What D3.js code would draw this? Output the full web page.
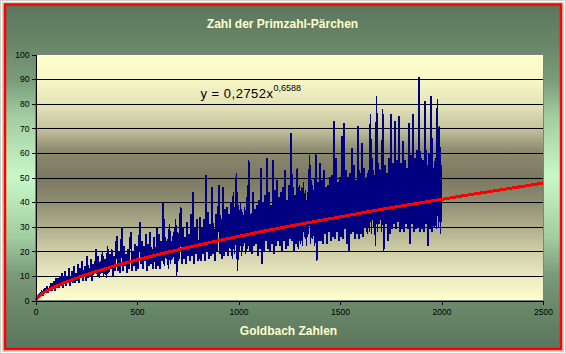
<!DOCTYPE html>
<html>
<head>
<meta charset="utf-8">
<script src="https://cdn.jsdelivr.net/npm/d3@7"></script>
<style>
  body { margin: 0; background: #d4d0c8; }
  svg { display: block; font-family: Arial, "Liberation Sans", sans-serif; }
  .titulo { font-weight: bold; font-size: 12px; fill: #ffffcc; }
  .eixo text { font-size: 8.5px; fill: #000; }
  .eixo line, .eixo path { stroke: #000; shape-rendering: crispEdges; }
</style>
</head>
<body>
<svg id="grafico"></svg>
<script>
// Goldbach-Zahlen: Anzahl der Primzahl-Pärchen, ein Wert je 5 Einheiten (x = 5, 10, ..., 2000)
const paarStart = 5;
const paarSchritt = 5;
const paare = [
  1, 2, 1, 3, 2, 4, 2, 3, 5, 3, 6, 3, 5, 4, 7, 4, 6, 8, 4, 9,
  5, 9, 5, 10, 6, 11, 5, 8, 12, 6, 10, 7, 13, 6, 9, 12, 7, 14, 7, 11,
  8, 15, 7, 13, 9, 16, 8, 12, 14, 8, 18, 9, 13, 10, 17, 8, 15, 11, 16, 21,
  10, 18, 9, 16, 11, 20, 10, 15, 17, 9, 22, 11, 19, 13, 21, 10, 18, 12, 20, 26,
  12, 20, 11, 18, 30, 12, 22, 14, 19, 11, 21, 13, 24, 28, 12, 20, 14, 23, 12, 22,
  13, 24, 32, 15, 24, 13, 22, 16, 27, 12, 23, 14, 28, 15, 21, 13, 26, 16, 13, 30,
  14, 27, 13, 24, 16, 40, 14, 26, 17, 25, 13, 31, 15, 24, 17, 28, 15, 33, 10, 28,
  16, 29, 38, 15, 30, 17, 26, 15, 32, 18, 27, 16, 35, 18, 44, 15, 30, 19, 33, 16,
  17, 34, 16, 30, 19, 33, 16, 51, 20, 36, 17, 31, 18, 46, 19, 29, 16, 35, 20, 37,
  47, 19, 33, 17, 46, 18, 37, 20, 38, 18, 35, 21, 40, 17, 44, 19, 36, 52, 12, 39,
  20, 40, 18, 36, 22, 38, 19, 42, 21, 57, 20, 35, 19, 44, 22, 37, 23, 39, 18, 41,
  21, 54, 15, 40, 20, 43, 24, 58, 21, 44, 20, 39, 23, 57, 19, 45, 22, 49, 24, 42,
  22, 44, 20, 46, 24, 53, 21, 41, 22, 47, 25, 68, 24, 46, 20, 43, 23, 54, 21, 47,
  23, 46, 22, 48, 26, 45, 22, 44, 27, 59, 23, 49, 25, 45, 22, 60, 16, 48, 24, 56,
  24, 49, 23, 53, 27, 46, 23, 47, 28, 50, 24, 51, 26, 73, 25, 58, 28, 48, 24, 50,
  26, 67, 25, 72, 29, 53, 23, 50, 20, 52, 27, 62, 28, 55, 25, 49, 27, 71, 25, 52,
  27, 64, 26, 54, 30, 50, 27, 53, 28, 76, 27, 58, 30, 51, 22, 83, 28, 56, 31, 53,
  28, 78, 20, 55, 31, 52, 24, 58, 27, 76, 29, 56, 31, 73, 29, 57, 32, 75, 28, 56,
  29, 65, 28, 57, 31, 54, 29, 72, 23, 59, 31, 76, 28, 58, 29, 61, 30, 91, 28, 58,
  29, 57, 28, 81, 31, 55, 22, 60, 29, 83, 28, 54, 30, 58, 29, 82, 30, 71, 27, 55
];

// Trendlinie (Potenz)
const trendX = [1, 10, 25, 50, 75, 100, 150, 200, 250, 300, 400, 500, 600, 700, 800, 900, 1000,
  1100, 1200, 1300, 1400, 1500, 1600, 1700, 1800, 1900, 2000, 2100, 2200, 2300, 2400, 2500];
const trendY = [0.28, 1.25, 2.29, 3.62, 4.73, 5.72, 7.47, 9.03, 10.45, 11.8, 14.26, 16.5, 18.6, 20.6, 22.5, 24.3, 26.06,
  27.8, 29.4, 31.0, 32.5, 34.0, 35.5, 37.0, 38.4, 39.8, 41.1, 42.5, 43.8, 45.1, 46.4, 47.7];

// Achsenbeschriftungen
const xTicks = [0, 500, 1000, 1500, 2000, 2500];
const yTicks = [0, 10, 20, 30, 40, 50, 60, 70, 80, 90, 100];

const titel = 'Zahl der Primzahl-Pärchen';
const titelX = 'Goldbach Zahlen';
const gleichung = 'y = 0,2752x';
const exponent = '0,6588';

const largura = 566, altura = 354;
const svg = d3.select('#grafico').attr('width', largura).attr('height', altura);

// Verläufe
const defs = svg.append('defs');
function verlauf(id, stops) {
  const g = defs.append('linearGradient').attr('id', id)
    .attr('x1', 0).attr('y1', 0).attr('x2', 0).attr('y2', 1);
  stops.forEach(s => g.append('stop').attr('offset', s[0]).attr('stop-color', s[1]));
}
verlauf('fundo', [[0, '#5c765e'], [0.1, '#668466'], [0.22, '#7a9c7a'], [0.32, '#a0cca0'],
  [0.5, '#c8f8c8'], [0.68, '#a0cca0'], [0.78, '#7a9c7a'], [0.9, '#668466'], [1, '#5c765e']]);
verlauf('plotfundo', [[0, '#ffffcc'], [0.1, '#f8f7c6'], [0.2, '#e6e5ba'], [0.3, '#c4c39e'],
  [0.39, '#8c8b72'], [0.5, '#7a7960'], [0.59, '#8c8b70'], [0.7, '#aeae8c'], [0.8, '#cfcea8'],
  [0.91, '#ecebc4'], [1, '#ffffcc']]);

// Rahmen
svg.append('rect').attr('x', 1.5).attr('y', 1.5).attr('width', 563).attr('height', 351)
  .attr('fill', 'none').attr('stroke', '#ffffff');
svg.append('rect').attr('x', 5).attr('y', 4.5).attr('width', 556).attr('height', 344.5)
  .attr('fill', 'url(#fundo)').attr('stroke', '#ff0000').attr('stroke-width', 2.5);

// Skalen
const x = d3.scaleLinear().domain([0, 2500]).range([35.5, 543]);
const y = d3.scaleLinear().domain([0, 100]).range([300.5, 54.5]);

// Zeichenfläche
svg.append('rect')
  .attr('x', x(0)).attr('y', y(100))
  .attr('width', x(2500) - x(0)).attr('height', y(0) - y(100))
  .attr('fill', 'url(#plotfundo)').attr('stroke', '#808080')
  .attr('shape-rendering', 'crispEdges');

// Gitterlinien
svg.append('g').selectAll('line').data(yTicks.filter(d => d > 0 && d < 100)).join('line')
  .attr('x1', x(0)).attr('x2', x(2500))
  .attr('y1', d => Math.round(y(d)) + 0.5).attr('y2', d => Math.round(y(d)) + 0.5)
  .attr('stroke', '#000').attr('shape-rendering', 'crispEdges');

// Datenreihe
const linha = d3.line()
  .x((d, i) => x(paarStart + i * paarSchritt))
  .y(d => y(d));
svg.append('path').datum(paare)
  .attr('d', linha)
  .attr('fill', 'none').attr('stroke', '#000080').attr('stroke-width', 1.7)
  .attr('stroke-linejoin', 'bevel')
  .attr('shape-rendering', 'crispEdges');

// Trendlinie
const trend = trendX.map((v, i) => ({ x: v, y: trendY[i] }));
svg.append('path').datum(trend)
  .attr('d', d3.line().x(d => x(d.x)).y(d => y(d.y)).curve(d3.curveMonotoneX))
  .attr('fill', 'none').attr('stroke', '#ff0000').attr('stroke-width', 3)
  .attr('shape-rendering', 'crispEdges');

// Achsen
svg.append('g').attr('class', 'eixo')
  .attr('transform', 'translate(' + x(0) + ',0)')
  .call(d3.axisLeft(y).tickValues(yTicks).tickSize(4).tickSizeOuter(0).tickPadding(2).tickFormat(d => d));
svg.append('g').attr('class', 'eixo')
  .attr('transform', 'translate(0,' + y(0) + ')')
  .call(d3.axisBottom(x).tickValues(xTicks).tickSize(4).tickSizeOuter(0).tickPadding(4).tickFormat(d => d));

// Titel
svg.append('text').attr('class', 'titulo')
  .attr('x', 282.5).attr('y', 28).attr('text-anchor', 'middle').text(titel);
svg.append('text').attr('class', 'titulo')
  .attr('x', 288.5).attr('y', 335).attr('text-anchor', 'middle').text(titelX);

// Gleichung der Trendlinie
const eq = svg.append('text').attr('x', 200.5).attr('y', 97.5)
  .attr('font-size', '13px').attr('letter-spacing', '0.5px').attr('fill', '#000');
eq.append('tspan').text(gleichung);
eq.append('tspan').attr('font-size', '9px').attr('letter-spacing', '0px').attr('dy', -7).text(exponent);
</script>
</body>
</html>
